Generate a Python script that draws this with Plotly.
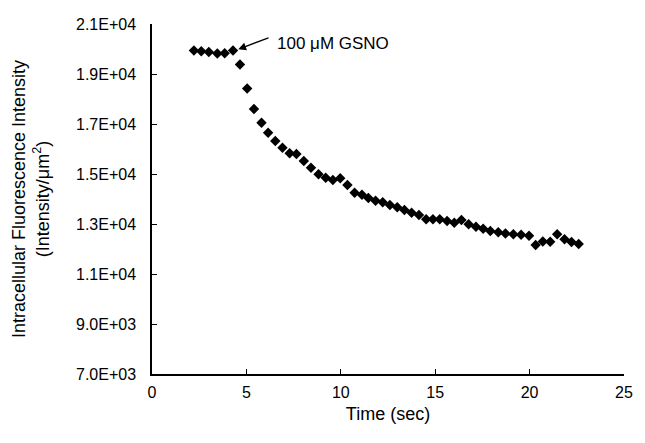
import plotly.graph_objects as go

time_sec = [2.22, 2.61, 3.01, 3.46, 3.85, 4.29, 4.66, 5.04, 5.40, 5.80,
            6.15, 6.53, 6.91, 7.29, 7.65, 8.04, 8.42, 8.82, 9.20, 9.58,
            9.97, 10.35, 10.73, 11.12, 11.46, 11.84, 12.22, 12.60, 12.99, 13.37,
            13.75, 14.14, 14.52, 14.88, 15.24, 15.63, 16.01, 16.39, 16.77, 17.16,
            17.54, 17.92, 18.34, 18.72, 19.14, 19.55, 19.97, 20.32, 20.70, 21.09,
            21.46, 21.85, 22.22, 22.60]
intensity = [19940, 19910, 19880, 19820, 19830, 19940, 19380, 18420, 17600, 17050,
             16650, 16320, 16050, 15830, 15800, 15520, 15250, 14990, 14850, 14760,
             14830, 14560, 14250, 14170, 14040, 13930, 13870, 13760, 13670, 13560,
             13450, 13360, 13190, 13190, 13190, 13120, 13050, 13160, 12990, 12890,
             12810, 12720, 12670, 12620, 12590, 12570, 12530, 12160, 12300, 12290,
             12590, 12390, 12280, 12200]

y_tickvals = [7000, 9000, 11000, 13000, 15000, 17000, 19000, 21000]
y_ticktext = ["7.0E+03", "9.0E+03", "1.1E+04", "1.3E+04", "1.5E+04", "1.7E+04", "1.9E+04", "2.1E+04"]
x_tickvals = [0, 5, 10, 15, 20, 25]

font_family = "Liberation Sans, Arial, sans-serif"

fig = go.Figure()
fig.add_trace(go.Scatter(
    x=time_sec, y=intensity, mode="markers",
    marker=dict(symbol="diamond", size=8, color="black"),
    showlegend=False, cliponaxis=False,
))

fig.add_annotation(x=4.57, y=19990, ax=31.7, ay=-12, text="", showarrow=True,
                   arrowhead=2, arrowsize=1.2, arrowwidth=1.3, arrowcolor="black",
                   xref="x", yref="y")
fig.add_annotation(x=6.5, y=20240, text="100 \u03bcM GSNO", showarrow=False,
                   xanchor="left", yanchor="middle",
                   font=dict(family=font_family, size=17, color="black"))

fig.update_layout(
    width=645, height=443,
    margin=dict(l=152, r=12, t=24, b=69),
    paper_bgcolor="white", plot_bgcolor="white",
    font=dict(family=font_family, size=16, color="black"),
)
fig.update_xaxes(
    range=[0, 25], tickvals=x_tickvals, ticks="inside", ticklen=5, tickwidth=1.3,
    tickcolor="black", showline=True, linecolor="black", linewidth=1.5,
    showgrid=False, zeroline=False, ticklabelstandoff=3, ticklabeloverflow="allow",
    title=dict(text="Time (sec)", font=dict(size=18), standoff=7),
    tickfont=dict(size=16),
)
fig.update_yaxes(
    range=[7000, 21000], tickvals=y_tickvals, ticktext=y_ticktext, ticks="inside",
    ticklen=5, tickwidth=1.3, tickcolor="black", showline=True, linecolor="black",
    linewidth=1.5, showgrid=False, zeroline=False, ticklabelstandoff=11,
    title=dict(text="Intracellular Fluorescence Intensity<br>(Intensity/\u03bcm<sup>2</sup>)",
               font=dict(size=18), standoff=22),
    tickfont=dict(size=16),
)

fig.write_html("out.html", config={"displayModeBar": False},
               post_script="document.body.style.margin='0';")
